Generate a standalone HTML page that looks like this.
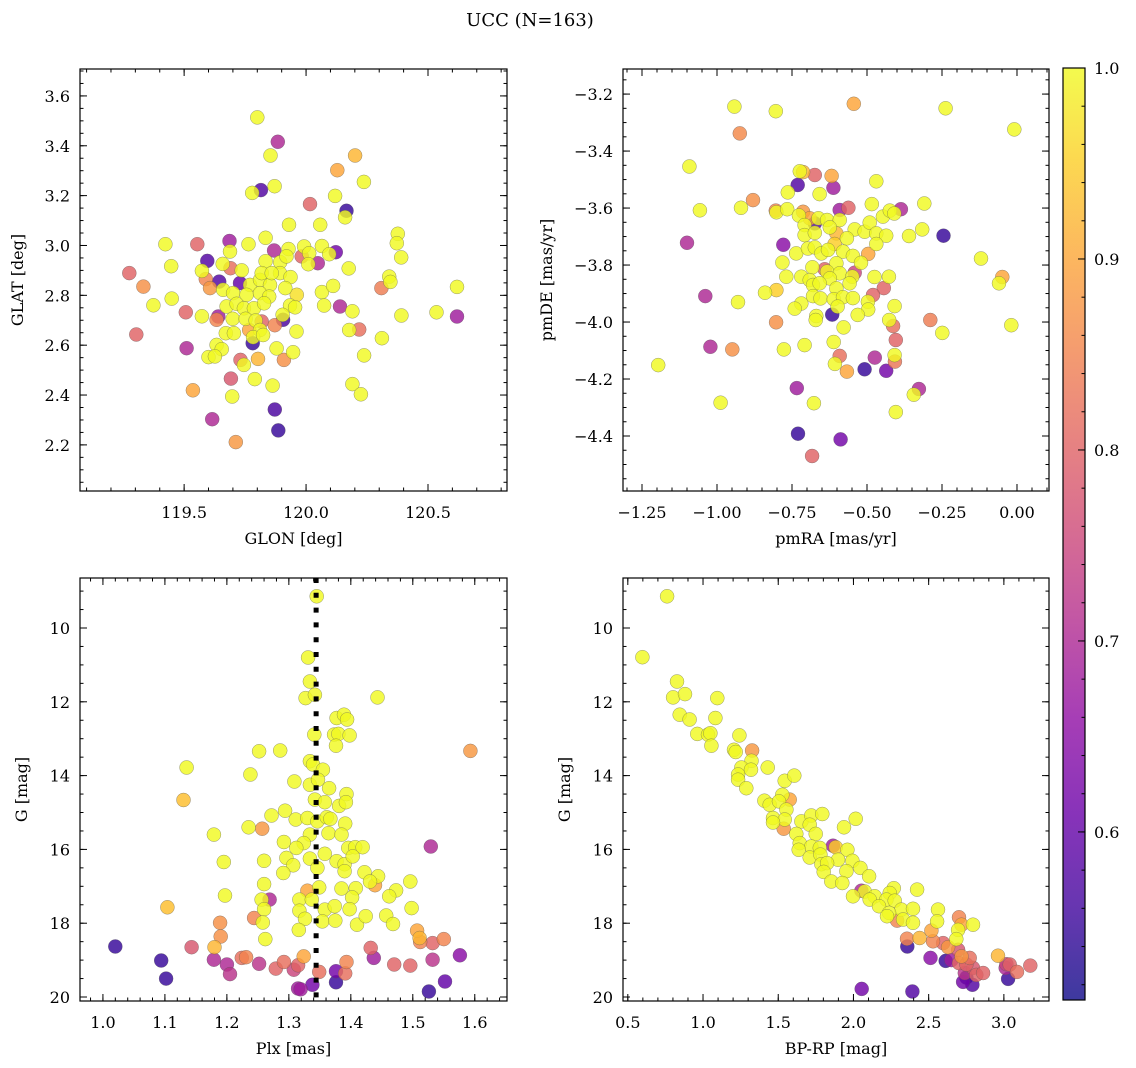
<!DOCTYPE html>
<html><head><meta charset="utf-8"><style>
html,body{margin:0;padding:0;background:#fff;}
svg{display:block;font-family:"DejaVu Serif","Liberation Serif",serif;}
</style></head><body>
<svg id="fig" width="1136" height="1068" viewBox="0 0 1136 1068" xmlns="http://www.w3.org/2000/svg">
<text x="530" y="26" font-size="18" text-anchor="middle">UCC (N=163)</text>
<defs><linearGradient id="cbgrad" x1="0" y1="1" x2="0" y2="0"></linearGradient></defs>
<g id="layer"></g>
</svg>
<script>
// ---------- Panel 1: GLON / GLAT ----------
const glon = [119.800,119.884,119.854,120.201,120.128,120.237,119.871,119.815,119.779,120.119,
120.016,120.166,120.160,119.930,120.058,120.376,120.372,119.423,119.554,119.686,
119.764,119.834,119.869,119.928,119.992,120.065,120.122,120.095,120.013,119.982,
120.048,120.009,120.390,119.688,119.595,119.447,119.275,119.658,119.690,119.736,
119.573,119.834,119.894,119.920,120.175,120.341,120.346,120.309,120.619,119.333,
119.589,119.644,119.729,119.770,119.811,119.852,119.893,119.936,119.818,119.859,
119.606,119.660,119.701,119.756,119.811,119.849,119.915,119.962,120.065,120.111,
119.374,119.449,120.074,119.674,119.715,119.745,119.786,119.828,119.934,119.955,
120.139,120.190,119.507,119.573,119.633,119.640,119.699,119.752,119.793,119.818,
119.906,119.904,120.391,120.535,120.619,119.304,119.510,119.671,119.704,119.767,
119.811,119.872,119.961,120.177,120.218,120.311,119.781,119.783,119.824,119.633,
119.654,119.600,119.626,119.879,119.947,120.238,119.731,119.745,119.803,119.909,
119.692,119.790,119.863,120.190,120.225,119.536,119.697,119.872,119.615,119.886,119.712];
const glat = [3.514,3.416,3.361,3.361,3.302,3.255,3.238,3.222,3.211,3.199,
3.166,3.139,3.113,3.083,3.083,3.047,3.009,3.005,3.005,3.018,
3.005,3.031,2.980,2.986,2.996,2.998,2.973,2.965,2.969,2.956,
2.929,2.925,2.952,2.976,2.938,2.917,2.889,2.926,2.909,2.900,
2.898,2.937,2.933,2.956,2.908,2.875,2.854,2.829,2.834,2.835,
2.865,2.855,2.849,2.842,2.862,2.842,2.889,2.873,2.889,2.889,
2.829,2.822,2.809,2.802,2.809,2.795,2.829,2.802,2.813,2.838,
2.760,2.787,2.759,2.755,2.766,2.748,2.748,2.768,2.759,2.752,
2.755,2.736,2.732,2.716,2.702,2.715,2.706,2.706,2.699,2.695,
2.702,2.722,2.719,2.732,2.715,2.643,2.588,2.648,2.648,2.661,
2.661,2.680,2.655,2.661,2.663,2.628,2.608,2.632,2.641,2.601,
2.584,2.552,2.555,2.587,2.572,2.559,2.541,2.521,2.545,2.541,
2.466,2.464,2.438,2.444,2.403,2.419,2.394,2.342,2.303,2.258,2.211];
const prob1 = [1,.70,1,.92,.90,1,1,.58,1,1,
.80,.55,1,1,1,1,1,1,.80,.68,
1,1,.70,1,1,1,.62,1,1,.80,
.70,1,1,1,.58,1,.80,1,.82,1,
1,1,1,1,1,1,1,.84,1,.87,
.85,.58,.60,1,1,1,1,1,1,1,
.88,1,1,1,1,1,1,.97,1,1,
1,1,1,1,1,1,1,1,1,1,
.70,1,.80,1,.85,.68,1,1,1,.80,
.57,1,1,1,.68,.80,.70,1,1,.90,
1,.85,1,1,.82,1,.55,1,1,1,
1,1,1,1,1,1,.80,1,.92,.87,
.78,1,1,1,1,.90,1,.57,.70,.55,.88];

// ---------- Panel 2: pmRA / pmDE ----------
const pmra = [-0.942,-0.804,-0.544,-0.238,-0.009,-0.924,-1.092,-0.724,-0.713,-0.674,
-0.618,-0.731,-0.612,-0.469,-0.764,-0.658,-0.880,-1.057,-0.920,-0.804,
-0.802,-0.766,-0.713,-0.727,-0.691,-0.662,-0.591,-0.562,-0.484,-0.447,
-0.424,-0.409,-0.387,-0.309,-0.674,-0.633,-0.591,-0.708,-0.624,-0.708,
-0.674,-0.602,-0.541,-0.508,-0.491,-0.469,-0.436,-0.360,-0.316,-0.245,
-1.100,-0.779,-0.567,-0.469,-0.608,-0.736,-0.697,-0.674,-0.652,-0.630,
-0.580,-0.547,-0.496,-0.520,-0.120,-0.782,-0.602,-0.682,-0.641,-0.633,
-0.591,-0.541,-0.549,-0.769,-0.719,-0.691,-0.624,-0.475,-0.427,-0.049,
-0.060,-0.680,-0.658,-0.602,-0.558,-0.444,-0.840,-0.802,-1.039,-0.930,
-0.680,-0.655,-0.611,-0.580,-0.547,-0.480,-0.497,-0.719,-0.741,-0.598,
-0.496,-0.408,-0.616,-0.669,-0.671,-0.531,-0.803,-0.426,-0.413,-0.289,
-0.578,-0.249,-0.019,-0.404,-0.611,-0.708,-0.777,-1.022,-0.949,-1.196,
-0.591,-0.474,-0.408,-0.407,-0.607,-0.567,-0.508,-0.436,-0.734,-0.327,
-0.344,-0.988,-0.677,-0.404,-0.730,-0.588,-0.683];
const pmde = [-3.244,-3.260,-3.234,-3.250,-3.324,-3.338,-3.454,-3.471,-3.474,-3.484,
-3.487,-3.519,-3.529,-3.506,-3.545,-3.551,-3.572,-3.608,-3.599,-3.609,
-3.615,-3.604,-3.613,-3.626,-3.636,-3.636,-3.607,-3.599,-3.586,-3.630,
-3.609,-3.619,-3.604,-3.584,-3.654,-3.642,-3.642,-3.660,-3.668,-3.695,
-3.687,-3.689,-3.675,-3.683,-3.651,-3.689,-3.697,-3.698,-3.675,-3.697,
-3.722,-3.729,-3.706,-3.726,-3.726,-3.759,-3.742,-3.738,-3.759,-3.747,
-3.753,-3.768,-3.761,-3.792,-3.777,-3.791,-3.794,-3.808,-3.815,-3.823,
-3.829,-3.827,-3.841,-3.841,-3.841,-3.853,-3.847,-3.842,-3.841,-3.842,
-3.864,-3.870,-3.864,-3.882,-3.864,-3.881,-3.897,-3.888,-3.909,-3.930,
-3.909,-3.917,-3.920,-3.913,-3.916,-3.905,-3.929,-3.935,-3.953,-3.946,
-3.956,-3.944,-3.974,-3.979,-3.993,-3.975,-4.001,-3.993,-4.014,-3.993,
-4.019,-4.038,-4.011,-4.063,-4.070,-4.081,-4.096,-4.087,-4.096,-4.151,
-4.119,-4.125,-4.116,-4.139,-4.147,-4.174,-4.166,-4.171,-4.232,-4.235,
-4.255,-4.283,-4.285,-4.316,-4.392,-4.412,-4.470];
const prob2 = [1,1,.9,1,1,.86,1,1,.92,.8,
.9,.58,.68,1,1,1,.87,1,1,.85,
1,1,.88,1,.9,1,.68,.8,1,1,
1,1,.7,1,.58,1,1,1,1,1,
1,.92,1,1,1,1,1,1,1,.55,
.7,.65,1,1,.95,1,1,1,1,1,
1,1,.9,1,1,1,1,1,.8,1,
1,.75,1,1,1,1,1,1,1,.9,
1,1,1,1,1,.8,1,.95,.7,1,
1,1,1,1,1,.8,1,1,1,1,
1,1,.55,1,1,1,.87,1,.82,.84,
1,1,1,.8,1,1,1,.7,.87,1,
.82,.7,1,.83,1,.9,.55,.62,.68,.7,
1,1,1,1,.55,.62,.8];

// ---------- Panel 3: Plx / G ----------
const plx = [1.345,1.331,1.334,1.327,1.342,1.443,1.377,1.389,1.394,1.341,
1.373,1.380,1.398,1.376,1.252,1.286,1.593,1.135,1.130,1.238,
1.334,1.339,1.355,1.309,1.334,1.347,1.365,1.393,1.342,1.358,
1.381,1.392,1.294,1.272,1.311,1.330,1.346,1.361,1.367,1.391,
1.235,1.257,1.179,1.364,1.385,1.334,1.292,1.324,1.312,1.396,
1.407,1.419,1.529,1.296,1.334,1.358,1.377,1.390,1.403,1.195,
1.260,1.307,1.346,1.390,1.291,1.422,1.444,1.431,1.439,1.496,
1.260,1.330,1.349,1.385,1.408,1.473,1.462,1.197,1.256,1.269,
1.317,1.337,1.402,1.104,1.260,1.317,1.358,1.374,1.398,1.498,
1.244,1.258,1.326,1.354,1.375,1.410,1.424,1.457,1.468,1.189,
1.190,1.262,1.316,1.507,1.511,1.512,1.532,1.550,1.180,1.020,
1.143,1.432,1.094,1.102,1.179,1.200,1.205,1.224,1.231,1.252,
1.279,1.292,1.308,1.315,1.324,1.349,1.376,1.393,1.391,1.376,
1.338,1.315,1.319,1.437,1.470,1.496,1.532,1.576,1.552,1.526];
const gmag3 = [9.14,10.80,11.45,11.90,11.81,11.88,12.44,12.35,12.48,12.89,
12.89,12.87,12.91,13.19,13.34,13.32,13.33,13.78,14.66,13.97,
13.61,13.70,13.84,14.16,14.25,14.11,14.34,14.50,14.65,14.72,
14.82,14.72,14.95,15.08,15.19,15.15,15.24,15.13,15.17,15.30,
15.40,15.44,15.60,15.56,15.60,15.60,15.80,15.83,15.96,15.96,
15.94,15.94,15.92,16.23,16.25,16.12,16.32,16.40,16.19,16.34,
16.31,16.43,16.50,16.59,16.64,16.62,16.73,16.87,16.97,16.87,
16.94,17.12,17.03,17.06,17.05,17.11,17.27,17.25,17.36,17.36,
17.36,17.36,17.30,17.57,17.62,17.66,17.63,17.54,17.62,17.59,
17.86,17.98,17.88,17.95,17.93,18.04,17.81,17.79,18.02,17.99,
18.36,18.43,18.18,18.20,18.40,18.51,18.54,18.43,18.65,18.63,
18.65,18.67,19.01,19.50,18.99,19.12,19.38,18.94,18.92,19.10,
19.23,19.05,19.26,19.14,18.90,19.32,19.30,19.05,19.36,19.60,
19.67,19.77,19.79,18.94,19.12,19.15,18.99,18.87,19.58,19.85];
const prob3 = [1,1,1,1,1,1,1,1,1,1,
1,1,1,1,1,1,.88,1,.93,1,
1,1,1,1,1,1,1,1,1,1,
1,1,1,1,1,1,1,1,1,1,
1,.88,1,1,1,1,1,1,1,1,
1,1,.7,1,1,1,1,1,1,1,
1,1,1,1,1,1,1,1,.9,1,
1,.9,1,1,1,1,1,1,1,.7,
1,1,1,.93,1,1,1,1,1,1,
.85,1,1,1,1,1,1,1,1,.87,
.87,1,1,.9,.92,.85,.8,.85,.92,.55,
.78,.8,.55,.55,.7,.7,.72,.82,.85,.72,
.8,.82,.75,.8,.9,.82,.62,.85,.82,.55,
.62,.68,.68,.68,.8,.8,.72,.65,.6,.55];
const plxRef = [1.344];

// ---------- Panel 4: BP-RP / G ----------
const bprp = [0.761,0.597,0.827,0.801,0.880,1.095,0.845,0.911,1.082,0.962,
1.033,1.049,1.056,1.242,1.206,1.217,1.326,1.322,1.255,1.319,
1.430,1.233,1.233,1.288,1.543,1.607,1.408,1.443,1.527,1.576,
1.505,1.554,1.465,1.543,1.536,1.465,1.654,1.720,1.793,2.015,
1.937,1.709,1.620,1.749,1.643,1.720,1.776,1.864,1.882,1.960,
1.636,1.709,1.780,1.898,1.993,1.787,1.825,1.953,2.046,1.802,
2.104,1.853,1.926,2.053,2.075,1.997,2.141,2.108,2.268,2.241,
2.423,2.219,2.274,2.170,2.319,2.396,2.237,2.223,2.290,2.330,
2.396,2.562,2.556,2.702,2.718,2.696,2.795,2.684,2.518,2.440,
2.356,2.358,2.529,2.596,2.629,2.696,2.512,2.613,2.651,2.718,
2.773,2.702,2.751,2.795,2.740,2.817,2.862,2.751,2.729,2.791,
2.961,3.017,3.039,3.012,3.087,3.176,3.028,2.055,2.392];
const gmag4 = [9.14,10.79,11.45,11.88,11.79,11.90,12.35,12.48,12.44,12.87,
12.89,12.85,13.19,12.91,13.30,13.36,13.32,13.60,13.78,13.84,
13.78,13.97,14.11,14.34,14.14,14.00,14.68,14.79,14.52,14.65,
14.70,14.92,15.15,15.19,15.44,15.27,15.24,15.08,15.04,15.17,
15.40,15.33,15.58,15.58,15.83,15.92,15.96,15.90,15.94,16.01,
16.01,16.22,16.14,16.28,16.31,16.40,16.37,16.59,16.50,16.61,
16.73,16.87,16.91,17.12,17.14,17.27,17.27,17.36,17.05,17.18,
17.09,17.36,17.39,17.54,17.63,17.61,17.72,17.81,17.93,17.90,
17.99,17.63,17.95,17.84,18.04,18.18,18.04,18.43,18.20,18.40,
18.42,18.63,18.49,18.54,18.65,18.72,18.94,19.02,19.00,18.90,
18.94,19.08,19.12,19.21,19.35,19.40,19.35,19.47,19.59,19.67,
18.88,19.11,19.12,19.21,19.32,19.15,19.51,19.78,19.85];
const prob4 = [1,1,1,1,1,1,1,1,1,1,
1,1,1,1,1,1,.88,1,1,1,
1,1,1,1,1,1,1,1,1,.9,
1,1,1,1,.88,1,1,1,1,1,
1,1,1,1,1,1,1,.68,.95,1,
1,1,1,1,1,1,1,1,1,1,
1,1,1,.7,1,1,1,1,1,1,
1,1,1,1,1,1,1,1,.85,1,
1,1,1,.85,.9,1,1,1,.9,.92,
.85,.55,.85,.8,.88,.78,.65,.55,.68,.88,
.82,.8,.8,.78,.72,.8,.8,.55,.62,.58,
.92,.75,.8,.7,.82,.8,.55,.62,.58];

// ---------- ticks ----------
const ticks1x = [119.5,120.0,120.5], ticks1y = [2.2,2.4,2.6,2.8,3.0,3.2,3.4,3.6];
const ticks2x = [-1.25,-1.00,-0.75,-0.50,-0.25,0.00], ticks2y = [-4.4,-4.2,-4.0,-3.8,-3.6,-3.4,-3.2];
const ticks3x = [1.0,1.1,1.2,1.3,1.4,1.5,1.6], ticksGy = [10,12,14,16,18,20];
const ticks4x = [0.5,1.0,1.5,2.0,2.5,3.0];
const cbTicks = [0.6,0.7,0.8,0.9,1.0];
const cbMin = 0.512, cbMax = 1.0;

const NS = "http://www.w3.org/2000/svg";
const layer = document.getElementById('layer');
function mk(tag, attrs, parent){ const e=document.createElementNS(NS,tag); for(const k in attrs) e.setAttribute(k,attrs[k]); (parent||layer).appendChild(e); return e; }

const plasmaStops = ["#0d0887","#41049d","#6a00a8","#8f0da4","#b12a90","#cc4778","#e16462","#f2844b","#fca636","#fcce25","#f0f921"];
function hex(h){return [parseInt(h.substr(1,2),16),parseInt(h.substr(3,2),16),parseInt(h.substr(5,2),16)];}
function plasma(t){ t=Math.max(0,Math.min(1,t)); const f=t*10, i=Math.min(9,Math.floor(f)), r=f-i; const a=hex(plasmaStops[i]), b=hex(plasmaStops[i+1]); return `rgb(${Math.round(a[0]+(b[0]-a[0])*r)},${Math.round(a[1]+(b[1]-a[1])*r)},${Math.round(a[2]+(b[2]-a[2])*r)})`; }

function fmt(v,d){ const s=Math.abs(v).toFixed(d); return (v<0?"\u2212":"")+s; }

function panel(cfg){
  const {name,px0,px1,py0,py1,xmin,xmax,ytop,ybot,xt,yt,xminor,yminor,xd,yd,xlabel,ylabel,ylabelX,xs,ys,ps} = cfg;
  const sx = v => px0 + (v-xmin)/(xmax-xmin)*(px1-px0);
  const sy = v => py0 + (v-ytop)/(ybot-ytop)*(py1-py0);
  const g = mk('g',{});
  
  
  const idx = xs.map((_,i)=>i).sort((a,b)=>ps[a]-ps[b]);
  const pts = mk('g',{}, g);
  
  
  const clip = mk('clipPath',{id:'clip-'+name}, g);
  mk('rect',{x:px0,y:py0,width:px1-px0,height:py1-py0}, clip);
  pts.setAttribute('clip-path','url(#clip-'+name+')');
  idx.forEach(i=>{
    const c = mk('circle',{cx:sx(xs[i]).toFixed(1),cy:sy(ys[i]).toFixed(1),r:7,fill:plasma((ps[i]-cbMin)/(cbMax-cbMin)),'fill-opacity':0.82,stroke:'#555','stroke-opacity':0.6,'stroke-width':0.5}, pts);
    
    
  });
  if (cfg.extra) cfg.extra(g, sx, sy);
  const fr = mk('rect',{x:px0,y:py0,width:px1-px0,height:py1-py0,fill:'none',stroke:'#000','stroke-width':1.2}, g);
  
  
  const tg = mk('g',{stroke:'#000','stroke-width':1}, g);
  const lo = Math.min(xmin,xmax), hi=Math.max(xmin,xmax);
  for(let v=Math.ceil(lo/xminor-1e-6)*xminor; v<=hi+1e-9; v+=xminor){ const x=sx(v); mk('line',{x1:x,y1:py1,x2:x,y2:py1-3.5},tg); mk('line',{x1:x,y1:py0,x2:x,y2:py0+3.5},tg); }
  const ylo=Math.min(ytop,ybot), yhi=Math.max(ytop,ybot);
  for(let v=Math.ceil(ylo/yminor-1e-6)*yminor; v<=yhi+1e-9; v+=yminor){ const y=sy(v); mk('line',{x1:px0,y1:y,x2:px0+3.5,y2:y},tg); mk('line',{x1:px1,y1:y,x2:px1-3.5,y2:y},tg); }
  xt.forEach(v=>{ const x=sx(v); mk('line',{x1:x,y1:py1,x2:x,y2:py1-7},tg); mk('line',{x1:x,y1:py0,x2:x,y2:py0+7},tg);
    const t=mk('text',{x:x,y:py1+27,'font-size':16,'text-anchor':'middle'},g); t.textContent=fmt(v,xd);
      });
  yt.forEach(v=>{ const y=sy(v); mk('line',{x1:px0,y1:y,x2:px0+7,y2:y},tg); mk('line',{x1:px1,y1:y,x2:px1-7,y2:y},tg);
    const t=mk('text',{x:px0-10,y:y+6,'font-size':16,'text-anchor':'end'},g); t.textContent=fmt(v,yd);
      });
  const xl = mk('text',{x:(px0+px1)/2,y:py1+53,'font-size':16,'text-anchor':'middle'},g); xl.textContent=xlabel;
   
  const yc=(py0+py1)/2;
  const yl = mk('text',{x:ylabelX,y:yc,'font-size':16,'text-anchor':'middle',transform:`rotate(-90 ${ylabelX} ${yc})`},g); yl.textContent=ylabel;
   
}

panel({name:'sky',px0:80,px1:507,py0:69,py1:491,xmin:119.073,xmax:120.824,ytop:3.708,ybot:2.015,xt:ticks1x,yt:ticks1y,xminor:0.1,yminor:0.05,xd:1,yd:1,xlabel:'GLON [deg]',ylabel:'GLAT [deg]',ylabelX:23,xs:glon,ys:glat,ps:prob1});
panel({name:'proper-motion',px0:623,px1:1049,py0:69,py1:491,xmin:-1.3133,xmax:0.1067,ytop:-3.112,ybot:-4.593,xt:ticks2x,yt:ticks2y,xminor:0.05,yminor:0.05,xd:2,yd:1,xlabel:'pmRA [mas/yr]',ylabel:'pmDE [mas/yr]',ylabelX:552,xs:pmra,ys:pmde,ps:prob2});
panel({name:'parallax',px0:80,px1:507,py0:578,py1:1001,xmin:0.963,xmax:1.652,ytop:8.645,ybot:20.108,xt:ticks3x,yt:ticksGy,xminor:0.02,yminor:0.5,xd:1,yd:0,xlabel:'Plx [mas]',ylabel:'G [mag]',ylabelX:27,xs:plx,ys:gmag3,ps:prob3,
  extra:(g,sx,sy)=>{ plxRef.forEach(v=>{ const l=mk('line',{x1:sx(v),y1:578,x2:sx(v),y2:1001,stroke:'#000','stroke-width':5,'stroke-dasharray':'5 9.8'},g);
      }); }});
panel({name:'cmd',px0:623,px1:1049,py0:578,py1:1001,xmin:0.468,xmax:3.300,ytop:8.645,ybot:20.108,xt:ticks4x,yt:ticksGy,xminor:0.1,yminor:0.5,xd:1,yd:0,xlabel:'BP-RP [mag]',ylabel:'G [mag]',ylabelX:570,xs:bprp,ys:gmag4,ps:prob4});

// colorbar
const grad = document.getElementById('cbgrad');
for(let i=0;i<=20;i++){ const s=document.createElementNS(NS,'stop'); s.setAttribute('offset',(i/20)); s.setAttribute('stop-color',plasma(i/20)); grad.appendChild(s); }
const cb = mk('g',{});


const cbx0=1063, cbx1=1085, cby0=68, cby1=1000;
const cy = v => cby1 - (v-cbMin)/(cbMax-cbMin)*(cby1-cby0);
mk('rect',{x:cbx0,y:cby0,width:cbx1-cbx0,height:cby1-cby0,fill:'url(#cbgrad)','fill-opacity':0.8},cb);
mk('rect',{x:cbx0,y:cby0,width:cbx1-cbx0,height:cby1-cby0,fill:'none',stroke:'#000','stroke-width':1.2},cb);
for(let v=0.52; v<=1.0001; v+=0.02){ const y=cy(v); mk('line',{x1:cbx1,y1:y,x2:cbx1-3.5,y2:y,stroke:'#000','stroke-width':1},cb); }
cbTicks.forEach(v=>{ const y=cy(v); mk('line',{x1:cbx1,y1:y,x2:cbx1-7,y2:y,stroke:'#000','stroke-width':1},cb);
  const t=mk('text',{x:1094,y:y+6,'font-size':16},cb); t.textContent=v.toFixed(1);
    });
</script>
</body></html>
